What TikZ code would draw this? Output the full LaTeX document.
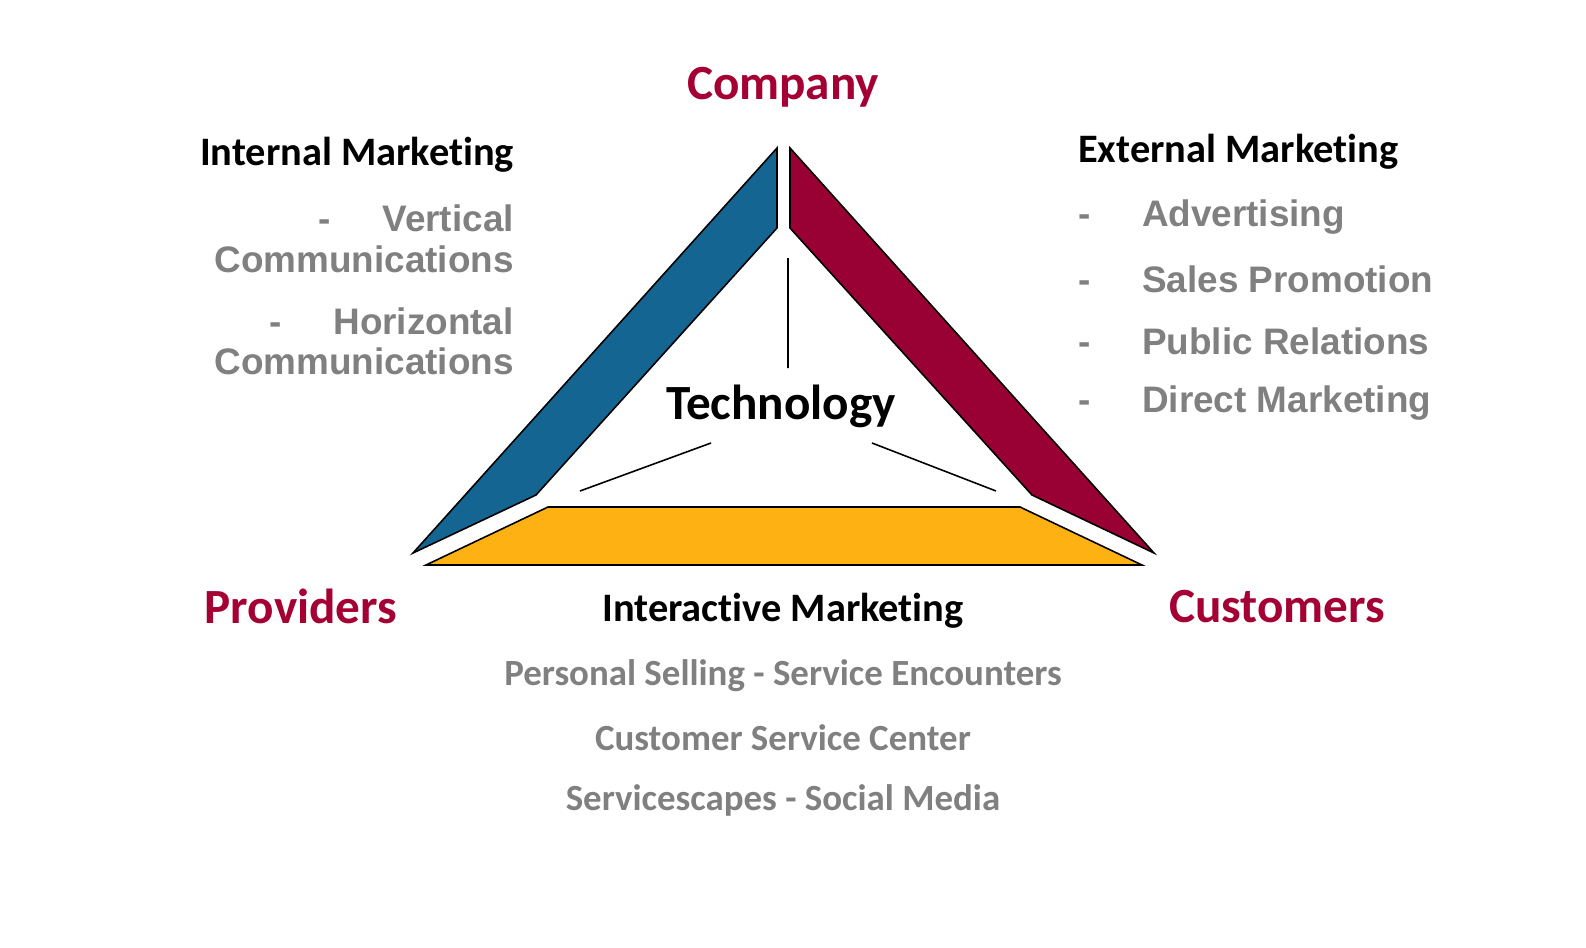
\documentclass[tikz,border=0pt]{standalone}
\usepackage{fontspec}
\setmainfont{Carlito}[Ligatures={NoCommon}]
\newfontfamily\arialf{Liberation Sans}
\definecolor{tblue}{HTML}{146591}
\definecolor{tred}{HTML}{990033}
\definecolor{tyel}{HTML}{FDB112}
\definecolor{tmag}{HTML}{A50034}
\definecolor{tgray}{HTML}{808080}
\tikzset{
 band/.style={draw=black,line width=0.9pt,line join=miter},
 corner/.style={font=\fontsize{28}{32}\selectfont\bfseries,text=tmag},
 head/.style={font=\fontsize{23}{27}\selectfont\bfseries},
 item/.style={font=\arialf\fontsize{21}{24}\selectfont\bfseries,text=tgray},
 sub/.style={font=\fontsize{21}{24}\selectfont\bfseries,text=tgray},
}
\begin{document}
\begin{tikzpicture}[x=0.02cm,y=-0.02cm]
\useasboundingbox (0,0) rectangle (1586,947);
\fill[white] (0,0) rectangle (1586,947);
\draw[band,fill=tblue] (413,553) -- (777,148) -- (777,228) -- (536,495) -- cycle;
\draw[band,fill=tred] (790,148) -- (1154,553) -- (1032,495) -- (790,228) -- cycle;
\draw[band,fill=tyel] (426,565) -- (548,507) -- (1020,507) -- (1142,565) -- cycle;
\coordinate (v1) at (788,258); \coordinate (v2) at (788,368);
\coordinate (l1) at (580,491); \coordinate (l2) at (711,443);
\coordinate (r1) at (872,443); \coordinate (r2) at (996,491);
\draw[line width=0.9pt] (v1)--(v2) (l1)--(l2) (r1)--(r2);
\node[corner] (company) at (783,87) {Company};
\node[corner] (prov) at (301,606) {Providers};
\node[corner] (cust) at (1277,607) {Customers};
\node[font=\fontsize{28}{32}\selectfont\bfseries] (tech) at (781,406) {Technology};
\node[head,anchor=east] (im) at (520,155) {Internal Marketing};
\node[item,anchor=east] (i1) at (520,218) {-\hspace{1.4em}Vertical};
\node[item,anchor=east] (i2) at (520,259) {Communications};
\node[item,anchor=east] (i3) at (520,321) {-\hspace{1.4em}Horizontal};
\node[item,anchor=east] (i4) at (520,361) {Communications};
\node[head,anchor=west] (em) at (1072,152) {External Marketing};
\foreach \t/\y in {Advertising/217,Sales Promotion/279,Public Relations/341,Direct Marketing/403}{
 \node[item,anchor=west] at (1072,\y) {-\hspace{1.4em}\t};
}
\node[head] (inm) at (783,611) {Interactive Marketing};
\node[sub] (b1) at (783,676) {Personal Selling - Service Encounters};
\node[sub] (b2) at (783,738) {Customer Service Center};
\node[sub] (b3) at (783,800) {Servicescapes - Social Media};
\end{tikzpicture}
\end{document}
